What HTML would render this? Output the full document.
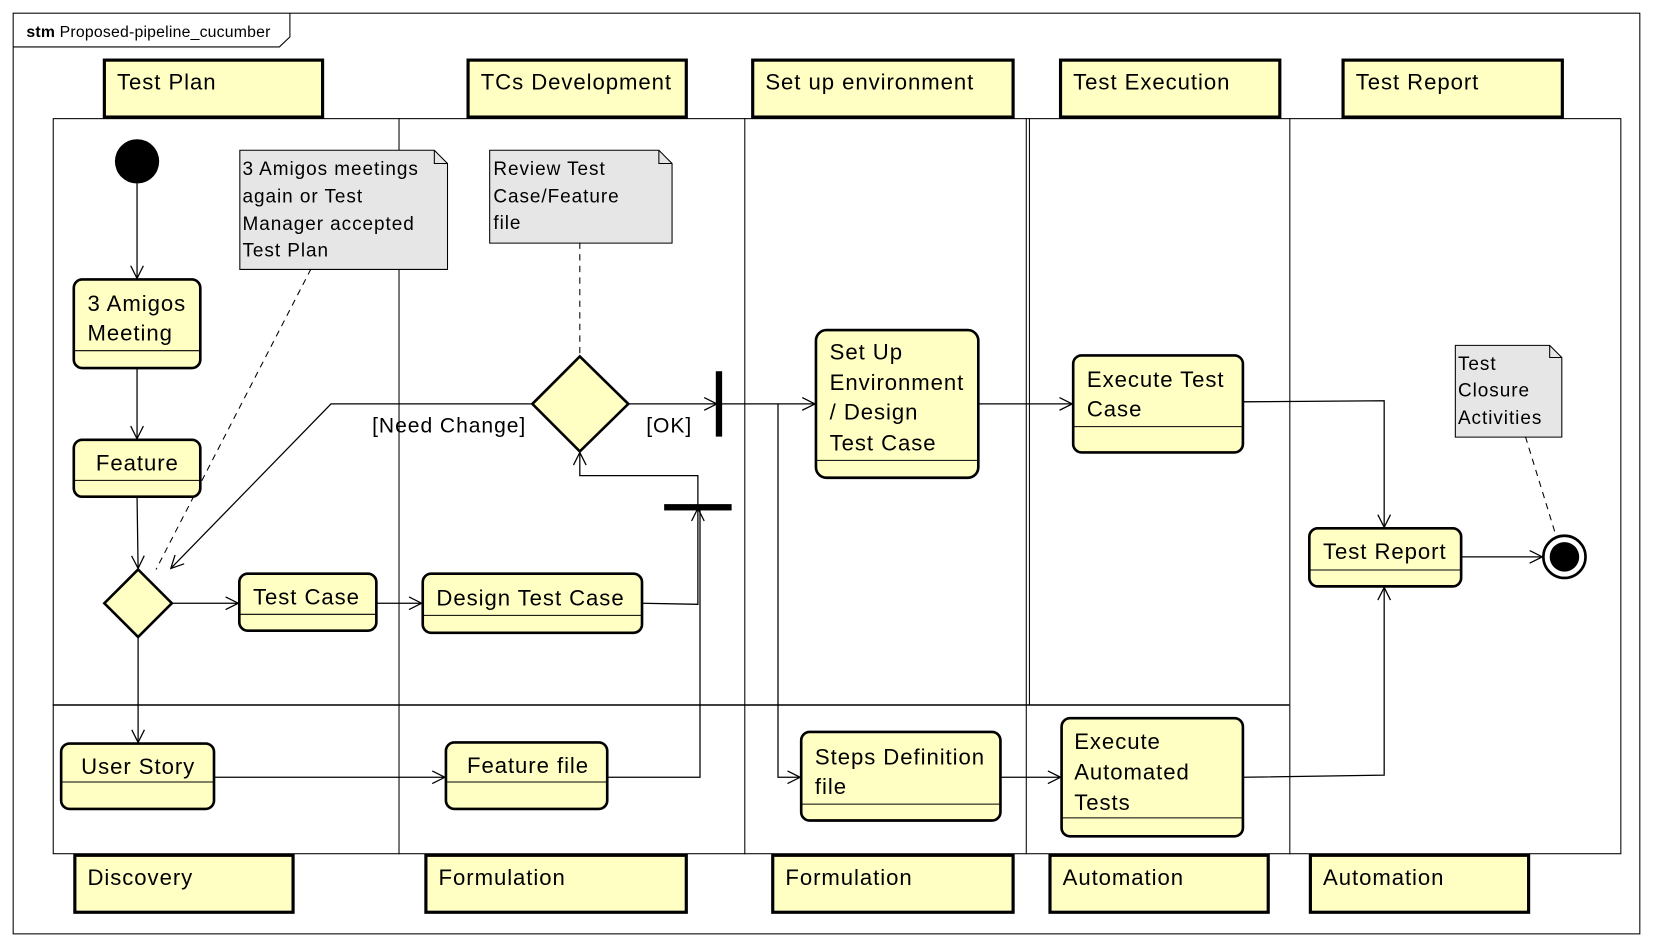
<!DOCTYPE html>
<html><head><meta charset="utf-8"><style>
html,body{margin:0;padding:0;background:#fff;}
svg{display:block;}
text{font-family:"Liberation Sans",sans-serif;fill:#000;letter-spacing:0.9px;}
text.t{letter-spacing:0.2px;}
</style></head><body>
<svg width="1653" height="946" viewBox="0 0 1568 897" preserveAspectRatio="none" xmlns="http://www.w3.org/2000/svg">
<defs>
<marker id="a" markerWidth="14" markerHeight="14" refX="13" refY="7" orient="auto" markerUnits="userSpaceOnUse">
<path d="M1,1 L13,7 L1,13" fill="none" stroke="#000" stroke-width="1.2"/>
</marker>
</defs>
<rect x="0" y="0" width="1568" height="897" fill="#fff"/>
<rect x="12.5" y="12.5" width="1543" height="873" fill="none" stroke="#000" stroke-width="1"/>
<path d="M12.5,44.5 H265 L275,35 V12.5" fill="none" stroke="#000"/>
<text class="t" x="25" y="35" font-size="15"><tspan font-weight="bold">stm</tspan> Proposed-pipeline_cucumber</text>

<rect x="50.5" y="112.5" width="1487" height="697" fill="none" stroke="#000"/>
<g stroke="#000" stroke-width="1">
<line x1="378.5" y1="112" x2="378.5" y2="810"/>
<line x1="706.5" y1="112" x2="706.5" y2="810"/>
<line x1="973.5" y1="112" x2="973.5" y2="810"/>
<line x1="976.5" y1="112" x2="976.5" y2="668"/>
<line x1="1223.5" y1="112" x2="1223.5" y2="810"/>
<line x1="50" y1="668.5" x2="1223" y2="668.5" stroke-width="1.5"/>
</g>

<g fill="#ffffc4" stroke="#000" stroke-width="3">
<rect x="99" y="57" width="207" height="54"/>
<rect x="444" y="57" width="207" height="54"/>
<rect x="714" y="57" width="247" height="54"/>
<rect x="1006" y="57" width="208" height="54"/>
<rect x="1274" y="57" width="208" height="54"/>
<rect x="71" y="811" width="207" height="54"/>
<rect x="404" y="811" width="247" height="54"/>
<rect x="733" y="811" width="228" height="54"/>
<rect x="996" y="811" width="207" height="54"/>
<rect x="1243" y="811" width="207" height="54"/>
</g>
<g font-size="21">
<text x="111" y="85">Test Plan</text>
<text x="456" y="85">TCs Development</text>
<text x="726" y="85">Set up environment</text>
<text x="1018" y="85">Test Execution</text>
<text x="1286" y="85">Test Report</text>
<text x="83" y="839">Discovery</text>
<text x="416" y="839">Formulation</text>
<text x="745" y="839">Formulation</text>
<text x="1008" y="839">Automation</text>
<text x="1255" y="839">Automation</text>
</g>

<g fill="#e6e6e6" stroke="#000" stroke-width="1">
<path d="M227.5,142.5 H412 L424.5,155 V255.5 H227.5 Z"/>
<path d="M412,142.5 V155 H424.5" fill="none"/>
<path d="M464.5,142.5 H625 L637.5,155 V230.5 H464.5 Z"/>
<path d="M625,142.5 V155 H637.5" fill="none"/>
<path d="M1380.5,327.5 H1470 L1481.5,339 V414.5 H1380.5 Z"/>
<path d="M1470,327.5 V339 H1481.5" fill="none"/>
</g>
<g font-size="18">
<text x="230" y="166">3 Amigos meetings</text>
<text x="230" y="192">again or Test</text>
<text x="230" y="218">Manager accepted</text>
<text x="230" y="243">Test Plan</text>
<text x="468" y="166">Review Test</text>
<text x="468" y="192">Case/Feature</text>
<text x="468" y="217">file</text>
<text x="1383" y="351">Test</text>
<text x="1383" y="376">Closure</text>
<text x="1383" y="402">Activities</text>
</g>

<g fill="none" stroke="#000" stroke-width="1.2">
<path d="M130,174 V264" marker-end="url(#a)"/>
<path d="M130,349 V416" marker-end="url(#a)"/>
<path d="M130,471 L131,539" marker-end="url(#a)"/>
<path d="M163,572 H226" marker-end="url(#a)"/>
<path d="M131,604 V704" marker-end="url(#a)"/>
<path d="M357,572 H400" marker-end="url(#a)"/>
<path d="M609,572 L662,573 V482" marker-end="url(#a)"/>
<path d="M576,737 H664 V482"/>
<path d="M203,737 H422" marker-end="url(#a)"/>
<path d="M662,481 V451 H550 V429" marker-end="url(#a)"/>
<path d="M505,383 H314 L162,539" marker-end="url(#a)"/>
<path d="M596,383 H680" marker-end="url(#a)"/>
<path d="M682,383 H773" marker-end="url(#a)"/>
<path d="M738,383 V737 H759" marker-end="url(#a)"/>
<path d="M928,383 H1017" marker-end="url(#a)"/>
<path d="M1179,381 L1313,380 V500" marker-end="url(#a)"/>
<path d="M949,737 H1006" marker-end="url(#a)"/>
<path d="M1179,737 L1313,735 V557" marker-end="url(#a)"/>
<path d="M1386,528 H1463" marker-end="url(#a)"/>
<g stroke-dasharray="6,5" stroke-width="1">
<path d="M295,255 L148,540"/>
<path d="M550,230 V338"/>
<path d="M1447,414 L1476,508"/>
</g>
</g>

<rect x="679" y="352" width="6" height="62" fill="#000"/>
<rect x="630" y="478" width="64" height="6" fill="#000"/>

<g font-size="20">
<text x="353" y="410">[Need Change]</text>
<text x="613" y="410">[OK]</text>
</g>

<circle cx="130" cy="153" r="21" fill="#000"/>
<circle cx="1484" cy="528" r="20" fill="#fff" stroke="#000" stroke-width="2.5"/>
<circle cx="1484" cy="528" r="14" fill="#000"/>

<g fill="#ffffc4" stroke="#000" stroke-width="2.5">
<path d="M131,540 L163,572 L131,604 L99,572 Z"/>
<path d="M550,338 L596,383 L550,428 L505,383 Z"/>
</g>

<g fill="#ffffc4" stroke="#000" stroke-width="2.5">
<rect x="70" y="265" width="120" height="84" rx="8"/>
<rect x="70" y="417" width="120" height="54" rx="8"/>
<rect x="227" y="544" width="130" height="54" rx="8"/>
<rect x="401" y="544" width="208" height="56" rx="8"/>
<rect x="58" y="705" width="145" height="62" rx="8"/>
<rect x="423" y="704" width="153" height="63" rx="8"/>
<rect x="774" y="313" width="154" height="140" rx="10"/>
<rect x="1018" y="337" width="161" height="92" rx="8"/>
<rect x="760" y="694" width="189" height="84" rx="8"/>
<rect x="1007" y="681" width="172" height="112" rx="8"/>
<rect x="1242" y="501" width="144" height="55" rx="8"/>
</g>
<g stroke="#000" stroke-width="1">
<line x1="71" y1="332.5" x2="189" y2="332.5"/>
<line x1="71" y1="455.5" x2="189" y2="455.5"/>
<line x1="228" y1="582.5" x2="356" y2="582.5"/>
<line x1="402" y1="583.5" x2="608" y2="583.5"/>
<line x1="59" y1="741.5" x2="202" y2="741.5"/>
<line x1="424" y1="741.5" x2="575" y2="741.5"/>
<line x1="775" y1="436.5" x2="927" y2="436.5"/>
<line x1="1019" y1="404.5" x2="1178" y2="404.5"/>
<line x1="761" y1="762.5" x2="948" y2="762.5"/>
<line x1="1008" y1="775.5" x2="1178" y2="775.5"/>
<line x1="1243" y1="540.5" x2="1385" y2="540.5"/>
</g>
<g font-size="21">
<text x="83" y="295">3 Amigos</text>
<text x="83" y="323">Meeting</text>
<text x="91" y="446">Feature</text>
<text x="240" y="573">Test Case</text>
<text x="414" y="574">Design Test Case</text>
<text x="77" y="734">User Story</text>
<text x="443" y="733">Feature file</text>
<text x="787" y="341">Set Up</text>
<text x="787" y="370">Environment</text>
<text x="787" y="398">/ Design</text>
<text x="787" y="427">Test Case</text>
<text x="1031" y="367">Execute Test</text>
<text x="1031" y="395">Case</text>
<text x="773" y="725">Steps Definition</text>
<text x="773" y="753">file</text>
<text x="1019" y="710">Execute</text>
<text x="1019" y="739">Automated</text>
<text x="1019" y="768">Tests</text>
<text x="1255" y="530">Test Report</text>
</g>
</svg>
</body></html>
